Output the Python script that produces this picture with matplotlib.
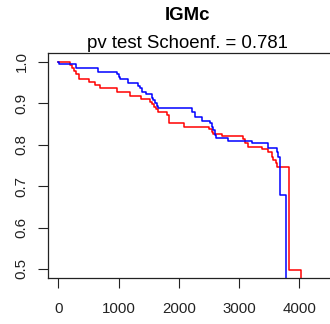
import matplotlib
matplotlib.use("Agg")
import matplotlib.pyplot as plt

# === Data ===
TITLE = "IGMc"
SUBTITLE = "pv test Schoenf. = 0.781"

blue_t = [0, 17, 294, 665, 970, 1003, 1025, 1163, 1318, 1357, 1395, 1452, 1551,
          1578, 1606, 1634, 1661, 2216, 2271, 2382, 2520, 2548, 2575, 2603,
          2620, 2824, 3212, 3488, 3630, 3655, 3675, 3690, 3782]
blue_s = [1.0, 0.994, 0.9855, 0.976, 0.970, 0.964, 0.958, 0.948, 0.941, 0.936,
          0.928, 0.921, 0.913, 0.908, 0.900, 0.894, 0.888, 0.878, 0.866, 0.858,
          0.853, 0.843, 0.835, 0.823, 0.815, 0.809, 0.803, 0.793, 0.783,
          0.771, 0.757, 0.679, 0.0]

red_t = [0, 194, 230, 255, 294, 344, 515, 610, 693, 980, 1191, 1374, 1523,
         1560, 1590, 1625, 1661, 1800, 1844, 2085, 2508, 2548, 2575, 2714,
         3073, 3101, 3156, 3378, 3488, 3545, 3571, 3610, 3640, 3832, 4035]
red_s = [1.0, 0.992, 0.985, 0.978, 0.970, 0.958, 0.950, 0.944, 0.936, 0.928,
         0.918, 0.910, 0.903, 0.897, 0.891, 0.885, 0.879, 0.871, 0.853, 0.843,
         0.837, 0.831, 0.826, 0.821, 0.813, 0.803, 0.795, 0.789, 0.783, 0.771,
         0.763, 0.755, 0.747, 0.498, 0.0]

x_ticks = [0, 1000, 2000, 3000, 4000]
y_ticks = [0.5, 0.6, 0.7, 0.8, 0.9, 1.0]
y_labels = ["0.5", "0.6", "0.7", "0.8", "0.9", "1.0"]

plt.rcParams['font.family'] = ['Liberation Sans', 'DejaVu Sans']

W, H = 330, 324
fig = plt.figure(figsize=(W / 100, H / 100), dpi=100)
# plot box: left 48px, top 53px, bottom 277.7px, right runs past the edge
ax = fig.add_axes([48 / W, (H - 277.7) / H, (335 - 48) / W, (277.7 - 53) / H])

ax.step(red_t, red_s, where='post', color='#ff0000', lw=1.1)
ax.step(blue_t, blue_s, where='post', color='#0000ff', lw=1.1)

ax.set_xlim(-171, 4596)
ax.set_ylim(0.479, 1.021)
ax.set_xticks(x_ticks)
ax.set_xticklabels([str(v) for v in x_ticks])
ax.set_yticks(y_ticks)
ax.set_yticklabels(y_labels, rotation=90, va='center')

ax.tick_params(axis='both', direction='out', length=7.2, width=0.8,
               labelsize=10.8, color='#222222', labelcolor='#222222')
ax.tick_params(axis='x', pad=10.4)
ax.tick_params(axis='y', pad=6.8)
for sp in ax.spines.values():
    sp.set_linewidth(0.9)
    sp.set_color('#222222')

fig.text(0.568, 1 - 15 / H, TITLE, ha='center', va='center',
         fontsize=13.4, fontweight='bold')
fig.text(0.567, 1 - 43 / H, SUBTITLE, ha='center', va='center', fontsize=13.4)

fig.savefig("out.png", dpi=100)
